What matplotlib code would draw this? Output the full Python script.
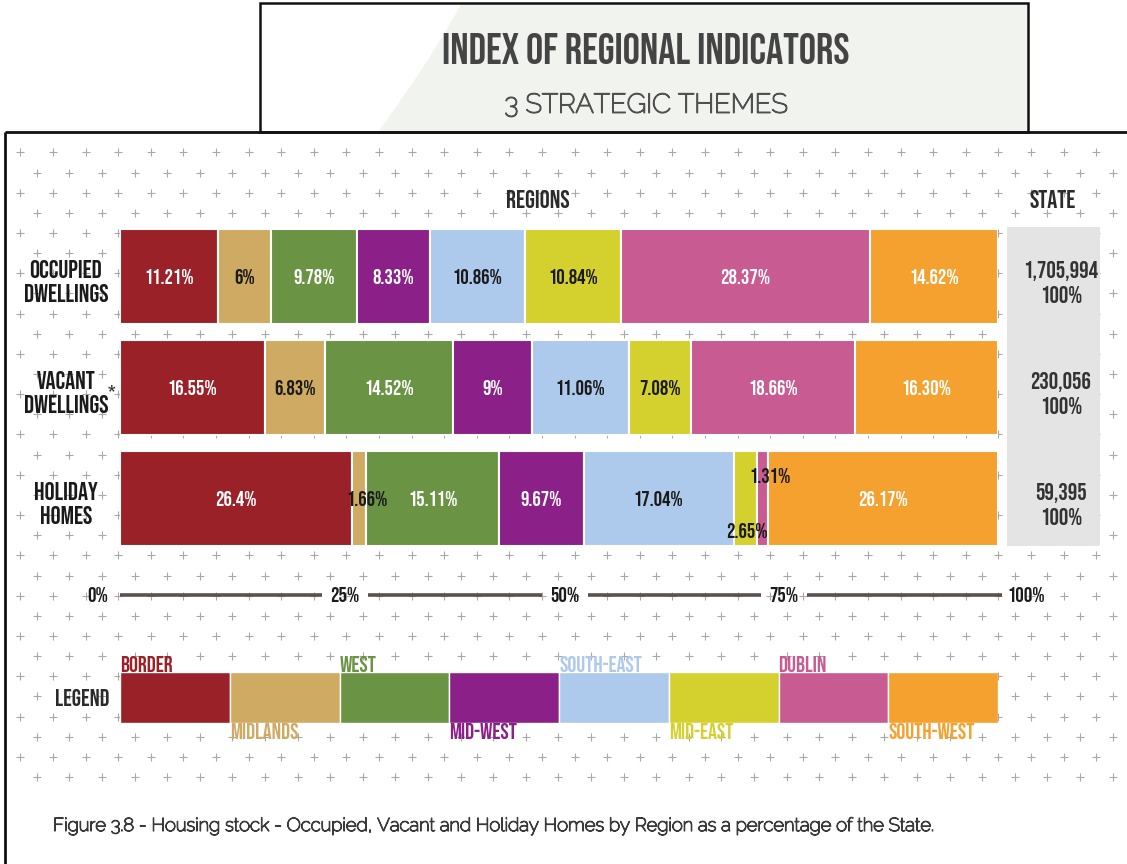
import matplotlib
matplotlib.use('Agg')
import matplotlib.pyplot as plt
import matplotlib.patheffects as pe
from matplotlib.patches import Rectangle, Polygon
from matplotlib.transforms import blended_transform_factory
import numpy as np

# ---------------- data ----------------
regions = ['BORDER', 'MIDLANDS', 'WEST', 'MID-WEST', 'SOUTH-EAST', 'MID-EAST', 'DUBLIN', 'SOUTH-WEST']
region_colors = ['#9b2128', '#cfaa62', '#6a9444', '#8b2089', '#adc9eb', '#d4d12f', '#c75b92', '#f4a12f']
region_text_colors = ['white', '#1a1a1a', 'white', 'white', '#1a1a1a', '#1a1a1a', 'white', 'white']

row_labels = ['OCCUPIED\nDWELLINGS', 'VACANT\nDWELLINGS', 'HOLIDAY\nHOMES']
occupied = [11.21, 6, 9.78, 8.33, 10.86, 10.84, 28.37, 14.62]
vacant = [16.55, 6.83, 14.52, 9, 11.06, 7.08, 18.66, 16.30]
holiday = [26.4, 1.66, 15.11, 9.67, 17.04, 2.65, 1.31, 26.17]
occupied_labels = ['11.21%', '6%', '9.78%', '8.33%', '10.86%', '10.84%', '28.37%', '14.62%']
vacant_labels = ['16.55%', '6.83%', '14.52%', '9%', '11.06%', '7.08%', '18.66%', '16.30%']
holiday_labels = ['26.4%', '1.66%', '15.11%', '9.67%', '17.04%', '2.65%', '1.31%', '26.17%']
state_totals = ['1,705,994', '230,056', '59,395']
state_shares = ['100%', '100%', '100%']
axis_ticks = [0, 25, 50, 75, 100]
axis_tick_labels = ['0%', '25%', '50%', '75%', '100%']

title = 'INDEX OF REGIONAL INDICATORS'
subtitle = '3 STRATEGIC THEMES'
caption = 'Figure 3.8 - Housing stock - Occupied, Vacant and Holiday Homes by Region as a percentage of the State.'

# ---------------- layout ----------------
W, H = 1127, 864
COND = ['Bebas Neue', 'DejaVu Sans']
RALE = ['Raleway', 'DejaVu Sans']
DARK = '#2b2b2b'

fig = plt.figure(figsize=(W / 100, H / 100), dpi=100)
fig.patch.set_facecolor('white')

bg = fig.add_axes([0, 0, 1, 1])
bg.set_xlim(0, W)
bg.set_ylim(H, 0)
bg.axis('off')

# title box
bg.add_patch(Rectangle((260, 3), 768, 129, facecolor='#f1f3ee', edgecolor='none', zorder=0))
t = np.linspace(0, 1, 20)
cx = (1 - t) ** 2 * 462 + 2 * (1 - t) * t * 428 + t ** 2 * 378
cy = (1 - t) ** 2 * 3 + 2 * (1 - t) * t * 64 + t ** 2 * 132
pts = [(260, 3)] + list(zip(cx, cy)) + [(260, 132)]
bg.add_patch(Polygon(pts, closed=True, facecolor='white', edgecolor='none', zorder=0.5))
bg.add_patch(Rectangle((260, 3), 768, 129, facecolor='none', edgecolor='#111111', lw=1.8, zorder=3))
bg.text(646, 48, title, ha='center', va='center', fontsize=31,
        color='#444444', family=COND, zorder=4)
bg.text(646, 106, subtitle, ha='center', va='center', fontsize=19.5,
        color='#505050', family=RALE, zorder=4,
        path_effects=[pe.withStroke(linewidth=1.0, foreground='#505050')])

# main frame
bg.plot([5, 5], [132, H], color='#111111', lw=2, zorder=3, solid_capstyle='butt')
bg.plot([5, W], [132, 132], color='#111111', lw=2, zorder=3, solid_capstyle='butt')

# plus-pattern background
for k in range(-1, 31):
    y = 172.5 + 20.15 * k
    x0 = 36.7 if k % 2 == 0 else 20.4
    xs = np.arange(x0, W, 32.6)
    bg.plot(xs, [y] * len(xs), linestyle='none', marker='+', markersize=6,
            markeredgewidth=0.8, color='#a8a8a8', zorder=1)

# state column background
bg.add_patch(Rectangle((1007, 227), 93, 319, facecolor='#e4e4e4', edgecolor='none', zorder=2))

# headers
bg.text(538, 199, 'REGIONS', ha='center', va='center', fontsize=18,
        color=DARK, family=COND, zorder=4)
bg.text(1053, 199, 'STATE', ha='center', va='center', fontsize=18,
        color=DARK, family=COND, zorder=4)
bg.text(82, 698, 'LEGEND', ha='center', va='center', fontsize=17,
        color=DARK, family=COND, zorder=4)

# caption
bg.text(53, 826, caption, ha='left', va='center', fontsize=13.3, color='#3a3a3a',
        family=RALE, zorder=4,
        path_effects=[pe.withStroke(linewidth=0.9, foreground='#3a3a3a')])

# ---------------- data axes ----------------
c0, step = 276.5, 111.0
top_px, bot_px = 210, 745


def ypx(p):
    return (p - c0) / step


ax = fig.add_axes([120 / W, 1 - bot_px / H, 878 / W, (bot_px - top_px) / H])
ax.set_xlim(0, 100)
ax.set_ylim(ypx(bot_px), ypx(top_px))
ax.axis('off')
ax.patch.set_alpha(0)

series = [occupied, vacant, holiday]
series_labels = [occupied_labels, vacant_labels, holiday_labels]
label_offsets = {(2, 1): (0.9, 0.0), (2, 5): (0.2, 0.285), (2, 6): (0.8, -0.21)}
bar_h = 95 / step

for i, (vals, labs) in enumerate(zip(series, series_labels)):
    vals = np.array(vals, dtype=float)
    lefts = np.concatenate([[0], np.cumsum(vals)[:-1]])
    ax.barh([i] * len(vals), vals, left=lefts, height=bar_h, color=region_colors,
            edgecolor='white', linewidth=1.5, zorder=2)
    for j, (l, v, lab) in enumerate(zip(lefts, vals, labs)):
        dx, dy = label_offsets.get((i, j), (0, 0))
        col = '#1a1a1a' if (i, j) in label_offsets else region_text_colors[j]
        ax.text(l + v / 2 + dx, i + dy, lab, ha='center', va='center', fontsize=15,
                color=col, family=COND, zorder=5)

# row labels and state values
tr_rows = blended_transform_factory(bg.transData, ax.transData)
for i, lab in enumerate(row_labels):
    ax.text(66, i + 0.04, lab, transform=tr_rows, ha='center', va='center', fontsize=18,
            color='#1a1a1a', family=COND, linespacing=1.3, zorder=5)
    ax.text(1061, i + 0.05, state_totals[i] + '\n' + state_shares[i], transform=tr_rows,
            ha='center', va='center', fontsize=17, color='#333333',
            family=COND, linespacing=1.3, zorder=5)
ax.text(108, 1.03, '*', transform=tr_rows, ha='left', va='center', fontsize=13,
        color=DARK, family=COND, zorder=5)

# percentage axis line
y_axis = ypx(595)
label_pos = [-1.3, 25.6, 50.7, 75.6, 101.1]
label_ha = ['right', 'center', 'center', 'center', 'left']
gap = 2.6
for k, (p, lab, ha) in enumerate(zip(label_pos, axis_tick_labels, label_ha)):
    ax.text(p, y_axis, lab, ha=ha, va='center', fontsize=15,
            color='#1a1a1a', family=COND, zorder=5, clip_on=False)
for k in range(len(axis_ticks) - 1):
    start = axis_ticks[k] if k == 0 else label_pos[k] + gap
    end = label_pos[k + 1] - gap if k + 1 < len(axis_ticks) - 1 else axis_ticks[-1] + 0.5
    ax.plot([start, end], [y_axis, y_axis], color='#5b524d', lw=2.6, zorder=3,
            solid_capstyle='butt', clip_on=False)

# legend strip
n = len(regions)
leg_w = [100 / n] * n
leg_left = np.arange(n) * (100 / n)
leg_y = ypx(697.5)
leg_h = 51 / step
ax.barh([leg_y] * n, leg_w, left=leg_left, height=leg_h, color=region_colors,
        edgecolor='white', linewidth=1.0, zorder=2)
for j, (l, name, c) in enumerate(zip(leg_left, regions, region_colors)):
    if j % 2 == 0:
        ax.text(l, leg_y - leg_h / 2, name, ha='left', va='bottom', fontsize=16,
                color=c, family=COND, zorder=5)
    else:
        ax.text(l, leg_y + leg_h / 2, name, ha='left', va='top', fontsize=16,
                color=c, family=COND, zorder=5)

fig.savefig('out.png', dpi=100, facecolor='white')
